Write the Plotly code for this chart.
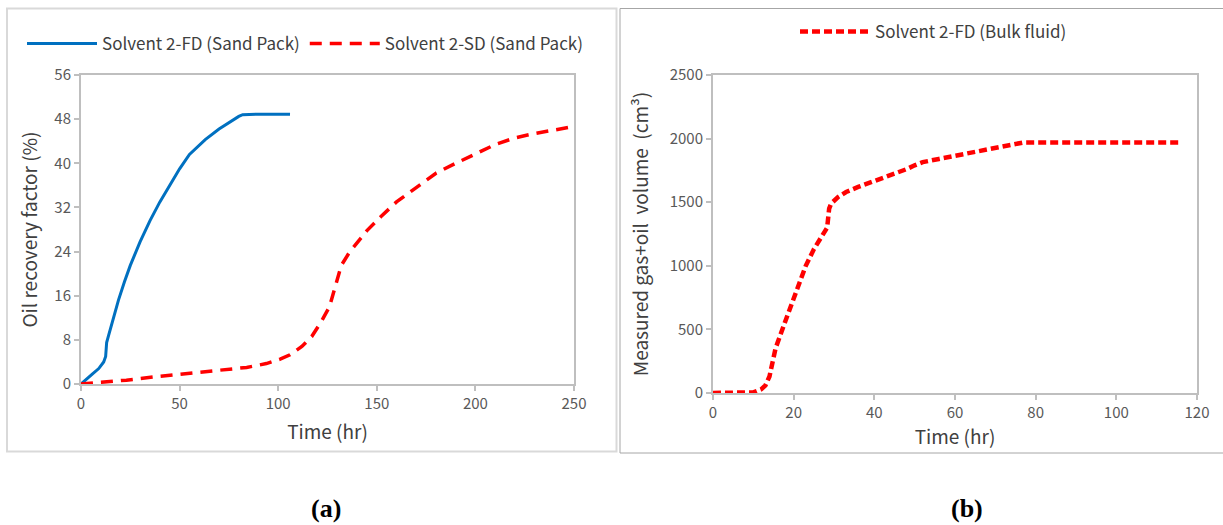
import plotly.graph_objects as go

W, H = 1223, 525

# ---- Data (a): Oil recovery factor (%) vs time (hr) ----
fd_sand_time = [0, 3, 6, 9, 11.5, 12.5, 13, 14, 16, 19, 22, 25, 30, 35, 40, 45, 50, 55,
                60, 63, 70, 75, 80, 82, 90, 106]
fd_sand_rf = [0, 1.0, 1.9, 2.8, 4.0, 5.0, 7.5, 8.8, 11.5, 15.2, 18.5, 21.5, 25.8, 29.6,
              33.0, 36.1, 39.0, 41.6, 43.4, 44.3, 46.2, 47.4, 48.5, 48.8, 48.9, 48.9]

sd_sand_time = [0, 10, 23, 40, 57, 74, 84, 94, 101, 106, 112, 117, 122, 126, 129, 132,
                136, 145, 152, 160, 170, 180, 190, 200, 203, 210, 220, 230, 240, 249]
sd_sand_rf = [0, 0.3, 0.7, 1.4, 2.0, 2.5, 3.0, 3.7, 4.5, 5.3, 6.8, 8.6, 11.4, 14.0, 17.5,
              21.5, 23.8, 27.8, 30.3, 33.0, 35.6, 38.2, 40.0, 41.6, 42.2, 43.4, 44.6,
              45.4, 46.0, 46.6]

# ---- Data (b): Measured gas+oil volume (cm3) vs time (hr) ----
fd_bulk_time = [0, 10, 12, 13, 14, 15.5, 18, 20.5, 23, 25, 27, 28.3, 28.8, 29.3, 31, 33,
                36, 40, 45, 48, 50, 52, 56, 60, 65, 70, 74, 77, 80, 90, 100, 116]
fd_bulk_vol = [0, 5, 30, 60, 130, 350, 570, 790, 1000, 1130, 1240, 1300, 1450, 1490,
               1540, 1580, 1620, 1665, 1720, 1760, 1790, 1815, 1840, 1865, 1890, 1920,
               1950, 1970, 1970, 1970, 1970, 1970]

# ---- Axis ticks ----
a_x_ticks = [0, 50, 100, 150, 200, 250]
a_y_ticks = [0, 8, 16, 24, 32, 40, 48, 56]
b_x_ticks = [0, 20, 40, 60, 80, 100, 120]
b_y_ticks = [0, 500, 1000, 1500, 2000, 2500]

FONT = "Noto Sans CJK SC"
TICK_C = "#595959"
TITLE_C = "#404040"
AX_C = "#BFBFBF"

def px_x(p):
    return p / W

def px_y(p):
    return 1 - p / H

fig = go.Figure()

fig.add_trace(go.Scatter(x=fd_sand_time, y=fd_sand_rf, mode="lines",
                         name="Solvent 2-FD (Sand Pack)",
                         line=dict(color="#0070C0", width=3),
                         xaxis="x", yaxis="y", legend="legend"))
fig.add_trace(go.Scatter(x=sd_sand_time, y=sd_sand_rf, mode="lines",
                         name="Solvent 2-SD (Sand Pack)",
                         line=dict(color="#FF0000", width=3.5, dash="12px,8px"),
                         xaxis="x", yaxis="y", legend="legend"))
fig.add_trace(go.Scatter(x=fd_bulk_time, y=fd_bulk_vol, mode="lines",
                         name="Solvent 2-FD (Bulk fluid)",
                         line=dict(color="#FF0000", width=4.5, dash="8px,4px"),
                         xaxis="x2", yaxis="y2", legend="legend2"))

axis_common = dict(showline=True, linecolor=AX_C, linewidth=2, mirror=True,
                   ticks="outside", ticklen=5, tickcolor=AX_C, tickwidth=1.5,
                   showgrid=False, zeroline=False, automargin=False,
                   tickfont=dict(family=FONT, size=15, color=TICK_C))

fig.update_layout(
    width=W, height=H, autosize=False,
    margin=dict(l=0, r=0, t=0, b=0, pad=0, autoexpand=False),
    paper_bgcolor="white", plot_bgcolor="white",
    font=dict(family=FONT, color=TITLE_C),
    xaxis=dict(domain=[px_x(81), px_x(574)], range=[0, 250], tickvals=a_x_ticks,
               anchor="y",
               title=dict(text="Time (hr)", font=dict(family=FONT, size=19, color=TITLE_C),
                          standoff=14),
               **axis_common),
    yaxis=dict(domain=[px_y(384), px_y(75)], range=[0, 56], tickvals=a_y_ticks,
               anchor="x",
               title=dict(text="Oil recovery factor (%)",
                          font=dict(family=FONT, size=19, color=TITLE_C), standoff=12),
               **axis_common),
    xaxis2=dict(domain=[px_x(713), px_x(1197)], range=[0, 120], tickvals=b_x_ticks,
                anchor="y2",
                title=dict(text="Time (hr)", font=dict(family=FONT, size=19, color=TITLE_C),
                           standoff=10),
                **axis_common),
    yaxis2=dict(domain=[px_y(393), px_y(75)], range=[0, 2500], tickvals=b_y_ticks,
                anchor="x2",
                title=dict(text="Measured gas+oil\u00a0\u00a0volume\u00a0\u00a0(cm³)",
                           font=dict(family=FONT, size=19, color=TITLE_C), standoff=16),
                **axis_common),
    legend=dict(orientation="h", x=px_x(22), y=px_y(44), xanchor="left", yanchor="middle",
                font=dict(family=FONT, size=17, color=TITLE_C), itemwidth=70,
                bgcolor="rgba(0,0,0,0)"),
    legend2=dict(orientation="h", x=px_x(795), y=px_y(32), xanchor="left", yanchor="middle",
                 font=dict(family=FONT, size=17, color=TITLE_C), itemwidth=70,
                 bgcolor="rgba(0,0,0,0)"),
    shapes=[
        dict(type="rect", xref="paper", yref="paper",
             x0=px_x(7), x1=px_x(616.5), y0=px_y(451.5), y1=px_y(8.5),
             line=dict(color="#D9D9D9", width=2), fillcolor="rgba(0,0,0,0)", layer="below"),
        dict(type="rect", xref="paper", yref="paper",
             x0=px_x(620), x1=px_x(1240), y0=px_y(453), y1=px_y(8.5),
             line=dict(color="#A6A6A6", width=1), fillcolor="rgba(0,0,0,0)", layer="below"),
    ],
    annotations=[
        dict(text="<b>(a)</b>", xref="paper", yref="paper", x=px_x(326), y=px_y(508),
             xanchor="center", yanchor="middle", showarrow=False,
             font=dict(family="Liberation Serif", size=26, color="black")),
        dict(text="<b>(b)</b>", xref="paper", yref="paper", x=px_x(967), y=px_y(508),
             xanchor="center", yanchor="middle", showarrow=False,
             font=dict(family="Liberation Serif", size=26, color="black")),
    ],
)

fig.write_html("out.html", config={"displayModeBar": False},
               post_script="document.body.style.margin='0';document.body.style.overflow='hidden';")
